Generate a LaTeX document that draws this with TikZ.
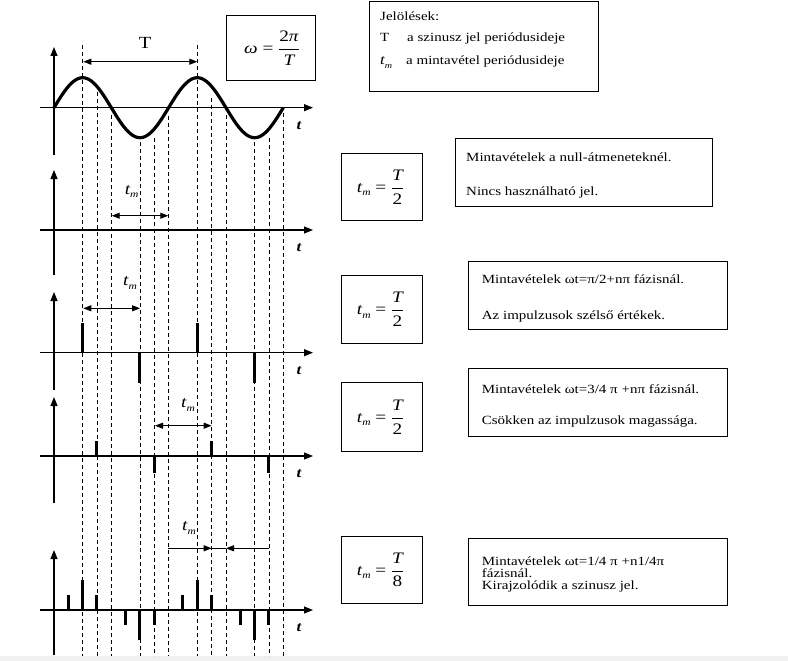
\documentclass[tikz,border=0pt]{standalone}
\usepackage{fontspec}
\setmainfont{Liberation Serif}[FakeStretch=1.2]
\usetikzlibrary{arrows.meta}
\newcommand\tmsym[1][16]{\mbox{\fontsize{#1}{#1}\selectfont\itshape t\raisebox{-0.22em}{\fontsize{0.6\dimexpr#1pt\relax}{8}\selectfont m}}}
\begin{document}
\begin{tikzpicture}[x=1pt,y=-1pt,
  axis/.style={line width=1.2pt,-{Triangle[length=9pt,width=7pt]}},
  dim/.style={line width=1pt,{Triangle[length=8pt,width=6pt]}-{Triangle[length=8pt,width=6pt]}},
  dimr/.style={line width=1pt,-{Triangle[length=8pt,width=6pt]}},
  guide/.style={line width=0.8pt,dash pattern=on 4pt off 3pt},
  pulse/.style={line width=3pt},
  box/.style={draw,line width=0.9pt,inner sep=0pt},
  txt/.style={anchor=base west,inner sep=0pt,font=\fontsize{12.5}{12.5}\selectfont},
  tlab/.style={inner sep=0pt,font=\fontsize{14}{14}\selectfont\bfseries\itshape},
  lab/.style={inner sep=0pt}]
\useasboundingbox (0,0) rectangle (788,661);
\fill[white] (0,0) rectangle (788,661);
\fill[black!6] (0,656) rectangle (788,661);

% dashed guides
\foreach \p/\ys in {2/45,3/92,4/115,6/142,7/138,8/116,10/45,11/98,12/115,14/142,15/138,16/113}{
  \pgfmathsetmacro\xx{54+\p*14.33}
  \coordinate (g\p t) at (\xx,\ys);
  \coordinate (g\p b) at (\xx,656);
  \draw[guide] (g\p t) -- (g\p b);
}

% axes
\foreach \i/\ay/\yb/\yt in {1/107.7/155/47,2/230/275/170,3/352.7/390/292,4/456/503/397,5/610/655/550}{
  \coordinate (xw\i) at (40,\ay);
  \coordinate (xe\i) at (313,\ay);
  \coordinate (yb\i) at (54,\yb);
  \coordinate (yt\i) at (54,\yt);
  \draw[axis] (xw\i) -- (xe\i);
  \draw[axis] (yb\i) -- (yt\i);
  \node[tlab] (t\i) at (299,\ay+18) {t};
}

% sine
\draw[line width=3.2pt] plot[domain=0:16,samples=120] ({54+\x*14.33},{107.7-30*sin(\x*45)});

% T arrow
\coordinate (Ta) at (83.3,61.7);
\coordinate (Tb) at (197.3,61.7);
\draw[dim] (Ta) -- (Tb);
\node[lab,font=\fontsize{17}{17}\selectfont] (Tl) at (145,43) {T};

% pulses
\foreach \ay/\list in {352.7/{2/30,6/-30,10/30,14/-30},
                       456/{3/15,7/-17,11/15,15/-17},
                       610/{1/15,2/30,3/15,5/-15,6/-30,7/-15,9/15,10/30,11/15,13/-15,14/-30,15/-15}}{
  \foreach \p/\h in \list{
    \pgfmathsetmacro\xx{54+\p*14.33}
    \draw[pulse] (\xx,\ay) -- (\xx,\ay-\h);
  }
}

% tm arrows
\coordinate (a2l) at (111.7,215.7); \coordinate (a2r) at (168.3,215.7);
\draw[dim] (a2l) -- (a2r);
\node[lab] (tm2) at (131.7,191.7) {\tmsym};
\coordinate (a3l) at (83.3,308.3); \coordinate (a3r) at (140,308.3);
\draw[dim] (a3l) -- (a3r);
\node[lab] (tm3) at (130,283) {\tmsym};
\coordinate (a4l) at (155,425.7); \coordinate (a4r) at (211.7,425.7);
\draw[dim] (a4l) -- (a4r);
\node[lab] (tm4) at (188,405) {\tmsym};
\coordinate (a5a) at (168.3,548.3); \coordinate (a5b) at (211.7,548.3);
\coordinate (a5c) at (226,548.3); \coordinate (a5d) at (269.3,548.3);
\draw[dimr] (a5a) -- (a5b);
\draw[line width=1pt] (a5b) -- (a5c);
\draw[dimr] (a5d) -- (a5c);
\node[lab] (tm5) at (189,528) {\tmsym};

% omega box
\node[box,minimum width=89.7pt,minimum height=65.3pt] (om) at (270.8,48.3) {};
\node[lab,font=\fontsize{16}{16}\selectfont] (omt) at (272,48.3)
  {$\displaystyle \mbox{\itshape ω}\mathrel{\mbox{=}}\frac{\mbox{2\itshape π}}{\mbox{\itshape T}}$};

% legend box
\node[box,minimum width=229.3pt,minimum height=89.7pt] (leg) at (483.7,46.8) {};
\node[txt] (l1) at (380,21) {Jelölések:};
\node[txt] (l2a) at (380,42) {T};
\node[txt] (l2b) at (407,42) {a szinusz jel periódusideje};
\node[txt] (l3a) at (380,65) {\tmsym[14]};
\node[txt] (l3b) at (406,65) {a mintavétel periódusideje};

% formula boxes
\foreach \i/\cy/\h/\d in {2/187/67.4/2,3/309.5/67.6/2,4/417.2/69/2,5/570/66.6/8}{
  \node[box,minimum width=81pt,minimum height=\h pt] (f\i) at (382.2,\cy) {};
  \node[lab,font=\fontsize{16}{16}\selectfont] (ft\i) at (380.5,\cy)
    {$\displaystyle \tmsym\mathrel{\mbox{=}}\frac{\mbox{\itshape T}}{\mbox{\d}}$};
}

% text boxes
\node[box,minimum width=257.7pt,minimum height=67.7pt] (b2) at (583.85,172.15) {};
\node[txt] (b2a) at (466,161) {Mintavételek a null-átmeneteknél.};
\node[txt] (b2b) at (466,195.5) {Nincs használható jel.};
\node[box,minimum width=259pt,minimum height=68pt] (b3) at (597.8,295) {};
\node[txt] (b3a) at (481.7,283) {Mintavételek ωt=π/2+nπ fázisnál.};
\node[txt] (b3b) at (481.7,319.5) {Az impulzusok szélső értékek.};
\node[box,minimum width=259pt,minimum height=67.7pt] (b4) at (597.8,402.15) {};
\node[txt] (b4a) at (481.7,393) {Mintavételek ωt=3/4 π +nπ fázisnál.};
\node[txt] (b4b) at (481.7,424.5) {Csökken az impulzusok magassága.};
\node[box,minimum width=259pt,minimum height=66.7pt] (b5) at (597.8,571.65) {};
\node[txt] (b5a) at (481.7,565.5) {Mintavételek ωt=1/4 π +n1/4π};
\node[txt] (b5b) at (481.7,577.5) {fázisnál.};
\node[txt] (b5c) at (481.7,589.5) {Kirajzolódik a szinusz jel.};
\end{tikzpicture}
\end{document}
